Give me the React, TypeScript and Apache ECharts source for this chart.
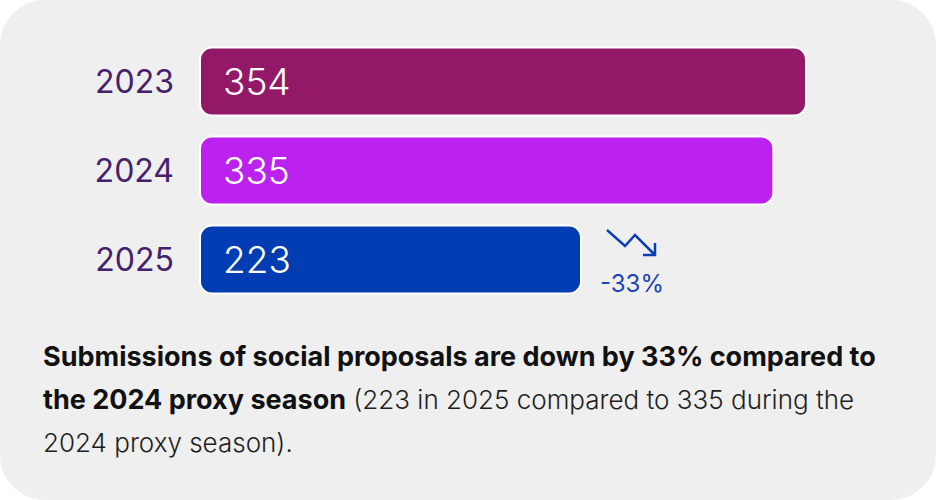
import React, { useEffect, useRef } from "react";
import * as echarts from "echarts";

const years = ["2023", "2024", "2025"];
const proposals = [354, 335, 223];
const barColors = ["#941868", "#bb22f0", "#003db3"];

const FONT = "Inter";

export default function App() {
  const ref = useRef<HTMLDivElement>(null);
  useEffect(() => {
    document.body.style.margin = "0";
    const chart = echarts.init(ref.current!, null, { renderer: "svg" });
    const last = proposals[proposals.length - 1];
    const prev = proposals[proposals.length - 2];
    const pct = Math.round(((last - prev) / prev) * 100);
    chart.setOption({
      animation: false,
      backgroundColor: "#ffffff",
      grid: { left: 199, top: 37, width: 608, height: 267, containLabel: false },
      xAxis: { type: "value", min: 0, max: 354, show: false },
      yAxis: {
        type: "category",
        data: years,
        inverse: true,
        axisLine: { show: false },
        axisTick: { show: false },
        axisLabel: {
          margin: 25,
          color: "#45206c",
          fontSize: 32,
          fontFamily: FONT,
          fontWeight: 400,
        },
      },
      series: [
        {
          type: "bar",
          barWidth: 70,
          data: proposals.map((v, i) => ({ value: v, itemStyle: { color: barColors[i] } })),
          itemStyle: { borderColor: "#ffffff", borderWidth: 2, borderRadius: 12 },
          label: {
            show: true,
            position: "insideLeft",
            distance: 24,
            color: "#ffffff",
            fontSize: 37,
            fontFamily: FONT,
            fontWeight: 300,
          },
          z: 5,
        },
      ],
      graphic: [
        {
          type: "rect",
          z: -10,
          silent: true,
          shape: { x: 0, y: 0, width: 936, height: 500, r: 45 },
          style: { fill: "#efefef" },
        },
        {
          type: "polyline",
          z: 10,
          shape: { points: [[607, 230], [625, 246], [635, 235], [655, 255]] },
          style: { stroke: "#0b3db5", lineWidth: 2.5, fill: null },
        },
        {
          type: "polyline",
          z: 10,
          shape: { points: [[655, 243], [655, 255], [643, 255]] },
          style: { stroke: "#0b3db5", lineWidth: 2.5, fill: null },
        },
        {
          type: "text",
          z: 10,
          x: 632,
          y: 283,
          style: {
            text: `${pct}%`,
            fill: "#1a44b8",
            fontSize: 24,
            fontFamily: FONT,
            align: "center",
            verticalAlign: "middle",
          },
        },
        {
          type: "text",
          z: 10,
          x: 43,
          y: 335,
          style: {
            text:
              "{b|Submissions of social proposals are down by 33% compared to}\n" +
              "{b|the 2024 proxy season} {r|(223 in 2025 compared to 335 during the}\n" +
              "{r|2024 proxy season).}",
            fontFamily: FONT,
            fontSize: 26,
            lineHeight: 43,
            fill: "#1a1a1a",
            rich: {
              b: { fontWeight: 700, fontSize: 27, lineHeight: 43, fill: "#111111", fontFamily: FONT },
              r: { fontWeight: 300, fontSize: 26, lineHeight: 43, fill: "#1e1e1e", fontFamily: FONT },
            },
          },
        },
      ],
    });
    return () => chart.dispose();
  }, []);
  return (
    <div
      ref={ref}
      style={{ position: "fixed", left: 0, top: 0, width: 936, height: 500 }}
    />
  );
}
